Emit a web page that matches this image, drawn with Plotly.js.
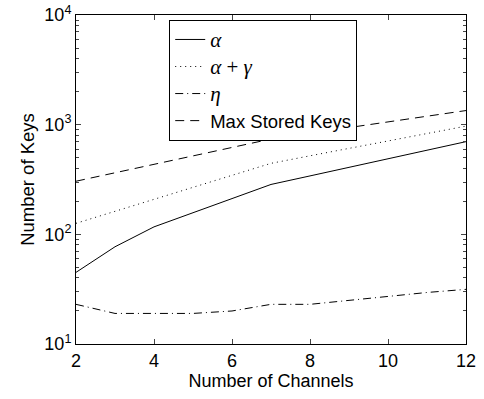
<!DOCTYPE html>
<html>
<head>
<meta charset="utf-8">
<script src="https://cdn.plot.ly/plotly-3.0.1.min.js"></script>
<style>html,body{margin:0;padding:0;background:#fff;}#chart{width:484px;height:399px;}</style>
</head>
<body>
<div id="chart"></div>
<script>
const channels = [2, 3, 4, 5, 6, 7, 8, 9, 10, 11, 12];
const alphaKeys = [45, 77, 117, 158, 213, 285, 341, 408, 488, 584, 700];
const alphaGammaKeys = [126, 162, 209, 269, 346, 444, 520, 608, 711, 831, 970];
const etaKeys = [23, 19, 19, 19, 20, 23, 23, 25, 27, 29.5, 31.5];
const maxStoredKeys = [305, 364, 435, 519, 620, 740, 835, 942, 1060, 1195, 1345];
const seriesNames = [
  '<span style="font-family:\'Liberation Serif\';font-size:21px"><i>α</i></span>',
  '<span style="font-family:\'Liberation Serif\';font-size:21px"><i>α</i> + <i>γ</i></span>',
  '<span style="font-family:\'Liberation Serif\';font-size:21px"><i>η</i></span>',
  'Max Stored Keys'
];
const yTickVals = [10, 100, 1000, 10000];
const yTickText = ['10<sup>1</sup>', '10<sup>2</sup>', '10<sup>3</sup>', '10<sup>4</sup>'];
const yMinorVals = [20, 30, 40, 50, 60, 70, 80, 90, 200, 300, 400, 500, 600, 700, 800, 900, 2000, 3000, 4000, 5000, 6000, 7000, 8000, 9000];
const xTickVals = [2, 4, 6, 8, 10, 12];

const mk = (y, name, dash) => ({
  x: channels, y: y, name: name, type: 'scatter', mode: 'lines',
  line: {color: '#000', width: 1, dash: dash}
});
const data = [
  mk(alphaKeys, seriesNames[0], 'solid'),
  mk(alphaGammaKeys, seriesNames[1], '1px,4px'),
  mk(etaKeys, seriesNames[2], '8px,4px,1px,4px'),
  mk(maxStoredKeys, seriesNames[3], '9px,6px')
];
const font = 'Liberation Sans, Arial, sans-serif';
const layout = {
  width: 484, height: 399,
  margin: {l: 76, r: 18, t: 15, b: 55},
  paper_bgcolor: '#fff', plot_bgcolor: '#fff',
  font: {family: font, color: '#000', size: 18},
  showlegend: true,
  legend: {
    x: 0.239, y: 0.985, xanchor: 'left', yanchor: 'top',
    bgcolor: '#fff', bordercolor: '#000', borderwidth: 1,
    font: {family: font, size: 18.5, color: '#000'},
    itemwidth: 30, tracegroupgap: 0
  },
  xaxis: {
    range: [2, 12], tickvals: xTickVals, ticks: 'inside', ticklen: 5,
    showline: true, linecolor: '#000', linewidth: 1, mirror: 'ticks',
    showgrid: false, zeroline: false,
    tickfont: {size: 18},
    title: {text: 'Number of Channels', font: {size: 18}, standoff: 2}
  },
  yaxis: {
    type: 'log', range: [1, 4], tickvals: yTickVals, ticktext: yTickText,
    ticks: 'inside', ticklen: 5,
    showline: true, linecolor: '#000', linewidth: 1, mirror: 'ticks',
    showgrid: false, zeroline: false,
    tickfont: {size: 18},
    minor: {ticks: 'inside', ticklen: 3, tickmode: 'array', tickvals: yMinorVals, showgrid: false},
    title: {text: 'Number of Keys', font: {size: 18.5}, standoff: 4}
  }
};
Plotly.newPlot('chart', data, layout, {displayModeBar: false, staticPlot: true});
</script>
</body>
</html>
